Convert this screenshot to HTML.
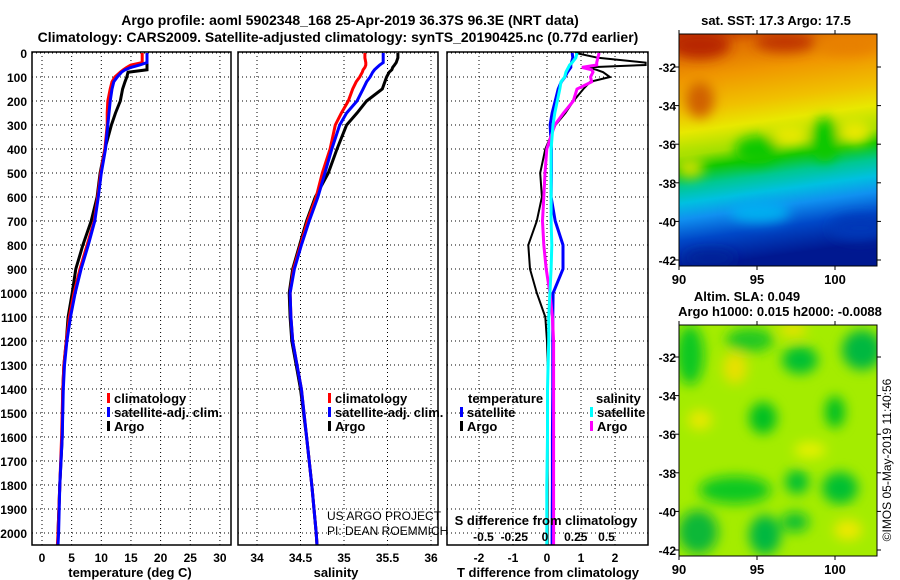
<!DOCTYPE html>
<html><head><meta charset="utf-8"><style>
html,body{margin:0;padding:0;background:#fff;}
svg{display:block;font-family:"Liberation Sans",sans-serif;}
.b{font-weight:bold;font-size:13px;}
.t{font-weight:bold;font-size:12px;}
</style></head><body>
<svg id="root" width="900" height="580" viewBox="0 0 900 580">
<defs>
<linearGradient id="sstg" x1="0" y1="0" x2="0.12" y2="1">
<stop offset="0" stop-color="#c03400"/><stop offset="0.08" stop-color="#e07000"/><stop offset="0.2" stop-color="#f09800"/>
<stop offset="0.33" stop-color="#f0c000"/><stop offset="0.42" stop-color="#e8e800"/><stop offset="0.52" stop-color="#a0e000"/>
<stop offset="0.58" stop-color="#10c800"/><stop offset="0.65" stop-color="#00c890"/>
<stop offset="0.72" stop-color="#00c0e0"/><stop offset="0.79" stop-color="#1090f0"/><stop offset="0.88" stop-color="#0048c8"/><stop offset="1" stop-color="#001890"/>
</linearGradient>
<filter id="bl" x="-50%" y="-50%" width="200%" height="200%"><feGaussianBlur stdDeviation="6"/></filter>
<clipPath id="c1"><rect x="679" y="34" width="198" height="232"/></clipPath>
<clipPath id="c2"><rect x="679" y="325" width="198" height="231"/></clipPath>
<clipPath id="p1"><rect x="32" y="52" width="199" height="493"/></clipPath>
<clipPath id="p2"><rect x="238" y="52" width="200" height="493"/></clipPath>
<clipPath id="p3"><rect x="447" y="52" width="201" height="493"/></clipPath>
</defs>
<text class="b" x="350" y="25" text-anchor="middle" style="font-size:14px">Argo profile: aoml 5902348_168 25-Apr-2019 36.37S 96.3E (NRT data)</text>
<text class="b" x="338" y="42" text-anchor="middle" style="font-size:14px">Climatology: CARS2009. Satellite-adjusted climatology: synTS_20190425.nc (0.77d earlier)</text>
<g id="grid"></g>
<g id="lines"></g>
<g id="frames"></g>
<g id="labels"></g>

<g class="b">
<rect x="107" y="393" width="3" height="10" fill="#f00"/><text x="114" y="403">climatology</text>
<rect x="107" y="407" width="3" height="10" fill="#00f"/><text x="114" y="417">satellite-adj. clim.</text>
<rect x="107" y="421" width="3" height="10" fill="#000"/><text x="114" y="431">Argo</text>
</g>
<g class="b">
<rect x="328" y="393" width="3" height="10" fill="#f00"/><text x="335" y="403">climatology</text>
<rect x="328" y="407" width="3" height="10" fill="#00f"/><text x="335" y="417">satellite-adj. clim.</text>
<rect x="328" y="421" width="3" height="10" fill="#000"/><text x="335" y="431">Argo</text>
</g>
<g class="b">
<text x="468" y="403">temperature</text>
<rect x="460" y="407" width="3" height="10" fill="#00f"/><text x="467" y="417">satellite</text>
<rect x="460" y="421" width="3" height="10" fill="#000"/><text x="467" y="431">Argo</text>
<text x="596" y="403">salinity</text>
<rect x="590" y="407" width="3" height="10" fill="#0ff"/><text x="597" y="417">satellite</text>
<rect x="590" y="421" width="3" height="10" fill="#f0f"/><text x="597" y="431">Argo</text>
</g>
<g style="font-size:12px">
<text x="327" y="520">US ARGO PROJECT</text><text x="327" y="535">PI: DEAN ROEMMICH</text>
</g>

<g>
<text class="b" x="776" y="25" text-anchor="middle">sat. SST: 17.3 Argo: 17.5</text>
<g clip-path="url(#c1)">
<rect x="679" y="34" width="198" height="232" fill="url(#sstg)"/>
<g filter="url(#bl)">
<ellipse cx="700" cy="45" rx="30" ry="14" fill="#b82800"/>
<ellipse cx="785" cy="42" rx="30" ry="10" fill="#c03400"/>
<ellipse cx="850" cy="45" rx="30" ry="10" fill="#e88000"/>
<ellipse cx="700" cy="100" rx="14" ry="18" fill="#d06000"/>
<ellipse cx="757" cy="150" rx="22" ry="14" fill="#10c800"/>
<ellipse cx="825" cy="140" rx="14" ry="22" fill="#10c800"/>
<ellipse cx="855" cy="132" rx="16" ry="12" fill="#e8e800"/>
<ellipse cx="790" cy="135" rx="18" ry="10" fill="#e8e800"/>
<ellipse cx="690" cy="168" rx="14" ry="10" fill="#c8e000"/>
<ellipse cx="760" cy="212" rx="30" ry="10" fill="#00b0f0"/>
<ellipse cx="860" cy="228" rx="30" ry="12" fill="#0038b8"/>
<ellipse cx="710" cy="258" rx="26" ry="8" fill="#002098"/>
</g></g>
<rect x="679" y="34" width="198" height="232" fill="none" stroke="#000"/>
</g>
<g>
<text class="b" x="747" y="301" text-anchor="middle">Altim. SLA: 0.049</text>
<text class="b" x="780" y="316" text-anchor="middle">Argo h1000: 0.015 h2000: -0.0088</text>
<g clip-path="url(#c2)">
<rect x="679" y="325" width="198" height="231" fill="#a4ec00"/>
<g filter="url(#bl)">
<ellipse cx="690" cy="355" rx="14" ry="30" fill="#10c820"/>
<ellipse cx="750" cy="340" rx="24" ry="12" fill="#20c820"/>
<ellipse cx="800" cy="360" rx="18" ry="14" fill="#00c030"/>
<ellipse cx="862" cy="350" rx="20" ry="20" fill="#00b840"/>
<ellipse cx="793" cy="330" rx="14" ry="6" fill="#f0e000"/>
<ellipse cx="735" cy="368" rx="12" ry="16" fill="#e8e000"/>
<ellipse cx="763" cy="418" rx="14" ry="16" fill="#00c020"/>
<ellipse cx="835" cy="412" rx="10" ry="16" fill="#00c020"/>
<ellipse cx="700" cy="420" rx="12" ry="10" fill="#e8e800"/>
<ellipse cx="810" cy="450" rx="16" ry="8" fill="#e8f000"/>
<ellipse cx="735" cy="490" rx="36" ry="14" fill="#10c820"/>
<ellipse cx="797" cy="482" rx="12" ry="12" fill="#00c030"/>
<ellipse cx="840" cy="488" rx="18" ry="16" fill="#00c030"/>
<ellipse cx="698" cy="532" rx="20" ry="22" fill="#10b838"/>
<ellipse cx="765" cy="535" rx="16" ry="20" fill="#00b840"/>
<ellipse cx="795" cy="522" rx="14" ry="10" fill="#10c030"/>
<ellipse cx="848" cy="530" rx="14" ry="10" fill="#f0e800"/>
</g></g>
<rect x="679" y="325" width="198" height="231" fill="none" stroke="#000"/>
</g>
<text x="891" y="460" transform="rotate(-90 891 460)" text-anchor="middle" style="font-size:12px">©IMOS 05-May-2019 11:40:56</text>
</svg>
<script>
const NS='http://www.w3.org/2000/svg';
const depths=[0,20,40,50,60,70,80,100,120,150,200,250,300,400,500,600,700,800,900,1000,1100,1200,1300,1400,1600,1800,2000,2050];
const tempClim=[16.9,16.9,16.9,15.0,14.3,13.7,13.2,12.3,11.8,11.5,11.1,11.0,11.0,10.6,9.9,9.4,8.8,7.6,6.4,5.4,4.6,4.1,3.7,3.5,3.3,3.0,2.7,2.6];
const tempSat=[17.7,17.7,17.7,16.5,15.0,14.0,13.4,12.7,12.1,11.8,11.5,11.3,11.1,10.7,10.0,9.5,8.9,7.8,6.6,5.6,4.8,4.2,3.8,3.6,3.4,3.0,2.8,2.7];
const tempArgo=[17.7,17.7,17.7,17.7,17.7,17.7,14.5,14.3,14.0,13.6,13.2,12.4,11.7,10.6,9.8,9.3,8.3,6.9,5.7,5.1,4.4,4.1,3.7,3.5,3.4,3.0,2.7,2.7];
const salClim=[35.24,35.24,35.25,35.25,35.24,35.22,35.21,35.18,35.14,35.10,35.05,34.97,34.90,34.84,34.75,34.68,34.58,34.50,34.42,34.38,34.39,34.41,34.46,34.51,34.57,34.63,34.68,34.69];
const salSat=[35.45,35.45,35.45,35.41,35.38,35.35,35.33,35.30,35.26,35.22,35.15,35.03,34.95,34.86,34.78,34.70,34.60,34.51,34.43,34.38,34.39,34.41,34.46,34.51,34.57,34.63,34.68,34.69];
const salArgo=[35.62,35.62,35.60,35.58,35.56,35.55,35.52,35.49,35.47,35.44,35.26,35.15,35.03,34.92,34.82,34.67,34.57,34.49,34.41,34.37,34.38,34.40,34.45,34.50,34.57,34.63,34.68,34.69];
const dTsat=[0.74,0.76,0.72,0.7,0.7,0.65,0.6,0.53,0.42,0.33,0.24,0.15,0.09,0.13,0.13,0.12,0.24,0.47,0.47,0.18,0.17,0.17,0.17,0.17,0.16,0.16,0.15,0.15];
const dTargo=[0.85,1.5,2.9,2.9,1.17,1.46,1.65,1.85,1.27,1.07,0.78,0.54,0.25,-0.05,-0.2,-0.15,-0.3,-0.55,-0.5,-0.3,-0.05,0.0,0.02,0.02,0.02,0.02,0.02,0.02];
const dSsat=[0.26,0.25,0.22,0.2,0.19,0.18,0.17,0.16,0.13,0.12,0.1,0.08,0.065,0.05,0.05,0.05,0.05,0.055,0.05,0.04,0.03,0.03,0.025,0.02,0.02,0.015,0.015,0.015];
const dSargo=[0.44,0.43,0.42,0.42,0.30,0.38,0.39,0.37,0.38,0.26,0.23,0.15,0.08,0.015,0.0,-0.01,-0.02,-0.01,0.01,0.04,0.06,0.07,0.07,0.07,0.07,0.07,0.07,0.07];
const depthTicks=[0,100,200,300,400,500,600,700,800,900,1000,1100,1200,1300,1400,1500,1600,1700,1800,1900,2000];
const tempTicks=[0,5,10,15,20,25,30];
const salTicks=[34,34.5,35,35.5,36];
const salTickLabels=['34','34.5','35','35.5','36'];
const tdTicks=[-2,-1,0,1,2];
const sdTicks=[-0.5,-0.25,0,0.25,0.5];
const sdTickLabels=['-0.5','-0.25','0','0.25','0.5'];
const lonTicks=[90,95,100];
const latTicks=[-32,-34,-36,-38,-40,-42];

const yD=d=>53+d*0.24;
const xT=t=>42+t*5.93;
const xS=s=>257+(s-34)*87;
const xTd=t=>547+t*34;
const xSd=s=>545+s*123;
const mk=(tag,attrs,parent)=>{const e=document.createElementNS(NS,tag);for(const k in attrs)e.setAttribute(k,attrs[k]);parent.appendChild(e);return e;};
const grid=document.getElementById('grid'),lines=document.getElementById('lines'),frames=document.getElementById('frames'),labels=document.getElementById('labels');
const panels=[{x0:32,x1:231,clip:'p1'},{x0:238,x1:438,clip:'p2'},{x0:447,x1:648,clip:'p3'}];
panels.forEach((p,i)=>{
  depthTicks.forEach(d=>{
    const l=mk('line',{x1:p.x0,x2:p.x1,y1:yD(d),y2:yD(d),stroke:'#000','stroke-dasharray':'1,3'},grid);
    
    
  });
  const r=mk('rect',{x:p.x0,y:52,width:p.x1-p.x0,height:493,fill:'none',stroke:'#000','stroke-width':1.5},frames);
  
  
});
function vgrid(vals,fx){vals.forEach(v=>{const l=mk('line',{x1:fx(v),x2:fx(v),y1:52,y2:545,stroke:'#000','stroke-dasharray':'1,3'},grid);
  
  });}
vgrid(tempTicks,xT);vgrid(salTicks,xS);vgrid(tdTicks,xTd);
function line(vals,fx,color,clip,name,w){
  const pts=vals.map((v,i)=>fx(v).toFixed(1)+','+yD(depths[i]).toFixed(1)).join(' ');
  const pl=mk('polyline',{points:pts,fill:'none',stroke:color,'stroke-width':w||3,'clip-path':'url(#'+clip+')'},lines);
  
  
}
line(tempArgo,xT,'#000','p1','temp-argo-line');
line(tempClim,xT,'#f00','p1','temp-climatology-line');
line(tempSat,xT,'#00f','p1','temp-satellite-line');
line(salArgo,xS,'#000','p2','salinity-argo-line');
line(salClim,xS,'#f00','p2','salinity-climatology-line');
line(salSat,xS,'#00f','p2','salinity-satellite-line');
line(dTargo,xTd,'#000','p3','tdiff-argo-line',2);
line(dTsat,xTd,'#00f','p3','tdiff-satellite-line',3);
line(dSargo,xSd,'#f0f','p3','sdiff-argo-line',3);
line(dSsat,xSd,'#0ff','p3','sdiff-satellite-line',3);
function txt(s,x,y,anchor,name,cls){const t=mk('text',{x:x,y:y,'text-anchor':anchor,'class':cls||'b'},labels);t.textContent=s;
  
  return t;}
depthTicks.forEach(d=>txt(String(d),27,yD(d)+5,'end','depth-tick-label','t'));
tempTicks.forEach(t=>txt(String(t),xT(t),562,'middle','temp-tick-label','t'));
salTicks.forEach((s,i)=>txt(salTickLabels[i],xS(s),562,'middle','salinity-tick-label','t'));
tdTicks.forEach(t=>txt(String(t),xTd(t),562,'middle','tdiff-tick-label','t'));
sdTicks.forEach((s,i)=>txt(sdTickLabels[i],xSd(s),541,'middle','sdiff-tick-label','t'));
txt('temperature (deg C)',130,577,'middle','temp-axis-title');
txt('salinity',336,577,'middle','salinity-axis-title');
txt('T difference from climatology',548,577,'middle','tdiff-axis-title');
txt('S difference from climatology',546,525,'middle','sdiff-axis-title');
const xLon=v=>679+(v-90)*15.6;
const maps=[{y0:34,y1:266,lat:v=>67+(-32-v)*19.3},{y0:325,y1:556,lat:v=>357+(-32-v)*19.3}];
maps.forEach(m=>{
  lonTicks.forEach(v=>{
    mk('line',{x1:xLon(v),x2:xLon(v),y1:m.y0,y2:m.y0-4,stroke:'#000'},labels);
    mk('line',{x1:xLon(v),x2:xLon(v),y1:m.y1,y2:m.y1+4,stroke:'#000'},labels);
    txt(String(v),xLon(v),m.y1+18,'middle','lon-tick-label');
  });
  latTicks.forEach(v=>{
    mk('line',{x1:679,x2:675,y1:m.lat(v),y2:m.lat(v),stroke:'#000'},labels);
    mk('line',{x1:877,x2:881,y1:m.lat(v),y2:m.lat(v),stroke:'#000'},labels);
    txt(String(v),676,m.lat(v)+5,'end','lat-tick-label','t');
  });
});
</script>
</body></html>
